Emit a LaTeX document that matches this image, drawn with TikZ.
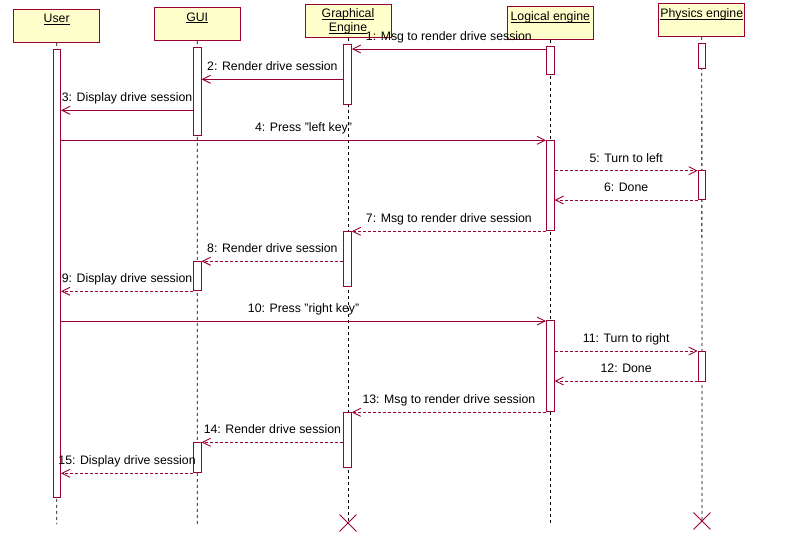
\documentclass[tikz,border=0pt]{standalone}
\usepackage{fontspec}
\setmainfont{Liberation Sans}
\usetikzlibrary{arrows.meta,shapes.misc}
\definecolor{umlred}{RGB}{153,0,51}
\definecolor{umlyellow}{RGB}{255,255,204}
\newcommand\uname[1]{\underline{\raisebox{0pt}[\height][0pt]{#1}}}

\begin{document}
\begin{tikzpicture}[x=1pt,y=-1pt,
		headtxt/.style={anchor=north,inner sep=5.5pt,align=center,text=black,font=\fontsize{12.3}{14}\selectfont},
		head/.style={rectangle,draw=umlred,fill=umlyellow,line width=1pt,minimum width=86pt,minimum height=33pt,inner sep=0pt},
		bar/.style={rectangle,draw=umlred,fill=white,line width=1pt,minimum width=7.6pt,inner sep=0pt},
		endx/.style={cross out,draw=umlred,line width=0.9pt,minimum size=16pt,inner sep=0pt},
		life/.style={draw,black,line width=0.8pt,dash pattern=on 3pt off 3pt}]
			\useasboundingbox (0,0) rectangle (791,557);

			\node[head,label={[headtxt]north:\uname{User}}] (user) at (56.7,25.8) {};
			\node[head,label={[headtxt]north:\uname{GUI}}] (gui) at (197.2,23.8) {};
			\node[head,label={[headtxt,inner sep=4.5pt]north:\uname{Graphical}\\\uname{Engine}}] (graph) at (348,20.8) {};
			\node[head,label={[headtxt]north:\uname{Logical engine}}] (logic) at (550.3,22.8) {};
			\node[head,label={[headtxt]north:\uname{Physics engine}}] (phys) at (701.8,19.8) {};

			\coordinate (userend) at (56.8,524);
			\coordinate (guiend) at (197.3,524);
			\coordinate (logicend) at (550.3,524);
			\node[endx] (graphx) at (348,523) {};
			\node[endx] (physx) at (702,521) {};

			\path[life] (user) -- (userend);
			\path[life] (gui) -- (guiend);
			\path[life] (graph) -- (graphx.center);
			\path[life] (logic) -- (logicend);
			\path[life] (phys) -- (physx.center);

			\begin{scope}[every node/.style={bar}]
				\node[minimum height=448pt] (u1) at (56.8,273.3) {};
				\node[minimum height=87.7pt] (g1) at (197.3,91.2) {};
				\node[minimum height=29.4pt] (g2) at (197.3,276) {};
				\node[minimum height=30pt] (g3) at (197.3,457.3) {};
				\node[minimum height=60pt] (e1) at (347.5,74) {};
				\node[minimum height=54.7pt] (e2) at (347.5,258.7) {};
				\node[minimum height=55.4pt] (e3) at (347.5,440) {};
				\node[minimum height=28pt] (l1) at (550.3,60.3) {};
				\node[minimum height=90.3pt] (l2) at (550.3,185.2) {};
				\node[minimum height=90.7pt] (l3) at (550.3,366.3) {};
				\node[minimum height=25pt] (p1) at (702,55.8) {};
				\node[minimum height=29pt] (p2) at (702,184.8) {};
				\node[minimum height=30pt] (p3) at (702,366) {};
			\end{scope}

			\begin{scope}[>={Straight Barb[length=8pt,width=8pt]},
				every node/.style={above=4pt,inner sep=1pt,text=black,text height=9pt,text depth=3pt,font=\fontsize{12.3}{15}\selectfont},
				call/.style={draw,umlred,line width=0.9pt,->},
				reply/.style={call,dash pattern=on 3pt off 2pt}]
				\path (l1.west |- 0,49) edge[call] node {1: Msg to render drive session} (e1.east |- 0,49);
				\path (e1.west |- 0,79.3) edge[call] node {2: Render drive session} (g1.east |- 0,79.3);
				\path (g1.west |- 0,110.3) edge[call] node {3: Display drive session} (u1.east |- 0,110.3);
				\path (u1.east |- 0,140.3) edge[call] node {4: Press "left key"} (l2.west |- 0,140.3);
				\path (l2.east |- 0,170.7) edge[reply] node {5: Turn to left} (p2.west |- 0,170.7);
				\path (p2.west |- 0,200) edge[reply] node {6: Done} (l2.east |- 0,200);
				\path (l2.west |- 0,231.3) edge[reply] node {7: Msg to render drive session} (e2.east |- 0,231.3);
				\path (e2.west |- 0,261.3) edge[reply] node {8: Render drive session} (g2.east |- 0,261.3);
				\path (g2.west |- 0,291.3) edge[reply] node {9: Display drive session} (u1.east |- 0,291.3);
				\path (u1.east |- 0,321) edge[call] node {10: Press "right key"} (l3.west |- 0,321);
				\path (l3.east |- 0,351) edge[reply] node {11: Turn to right} (p3.west |- 0,351);
				\path (p3.west |- 0,381) edge[reply] node {12: Done} (l3.east |- 0,381);
				\path (l3.west |- 0,412.3) edge[reply] node {13: Msg to render drive session} (e3.east |- 0,412.3);
				\path (e3.west |- 0,442.3) edge[reply] node {14: Render drive session} (g3.east |- 0,442.3);
				\path (g3.west |- 0,473.3) edge[reply] node {15: Display drive session} (u1.east |- 0,473.3);
			\end{scope}
		\end{tikzpicture}
\end{document}
